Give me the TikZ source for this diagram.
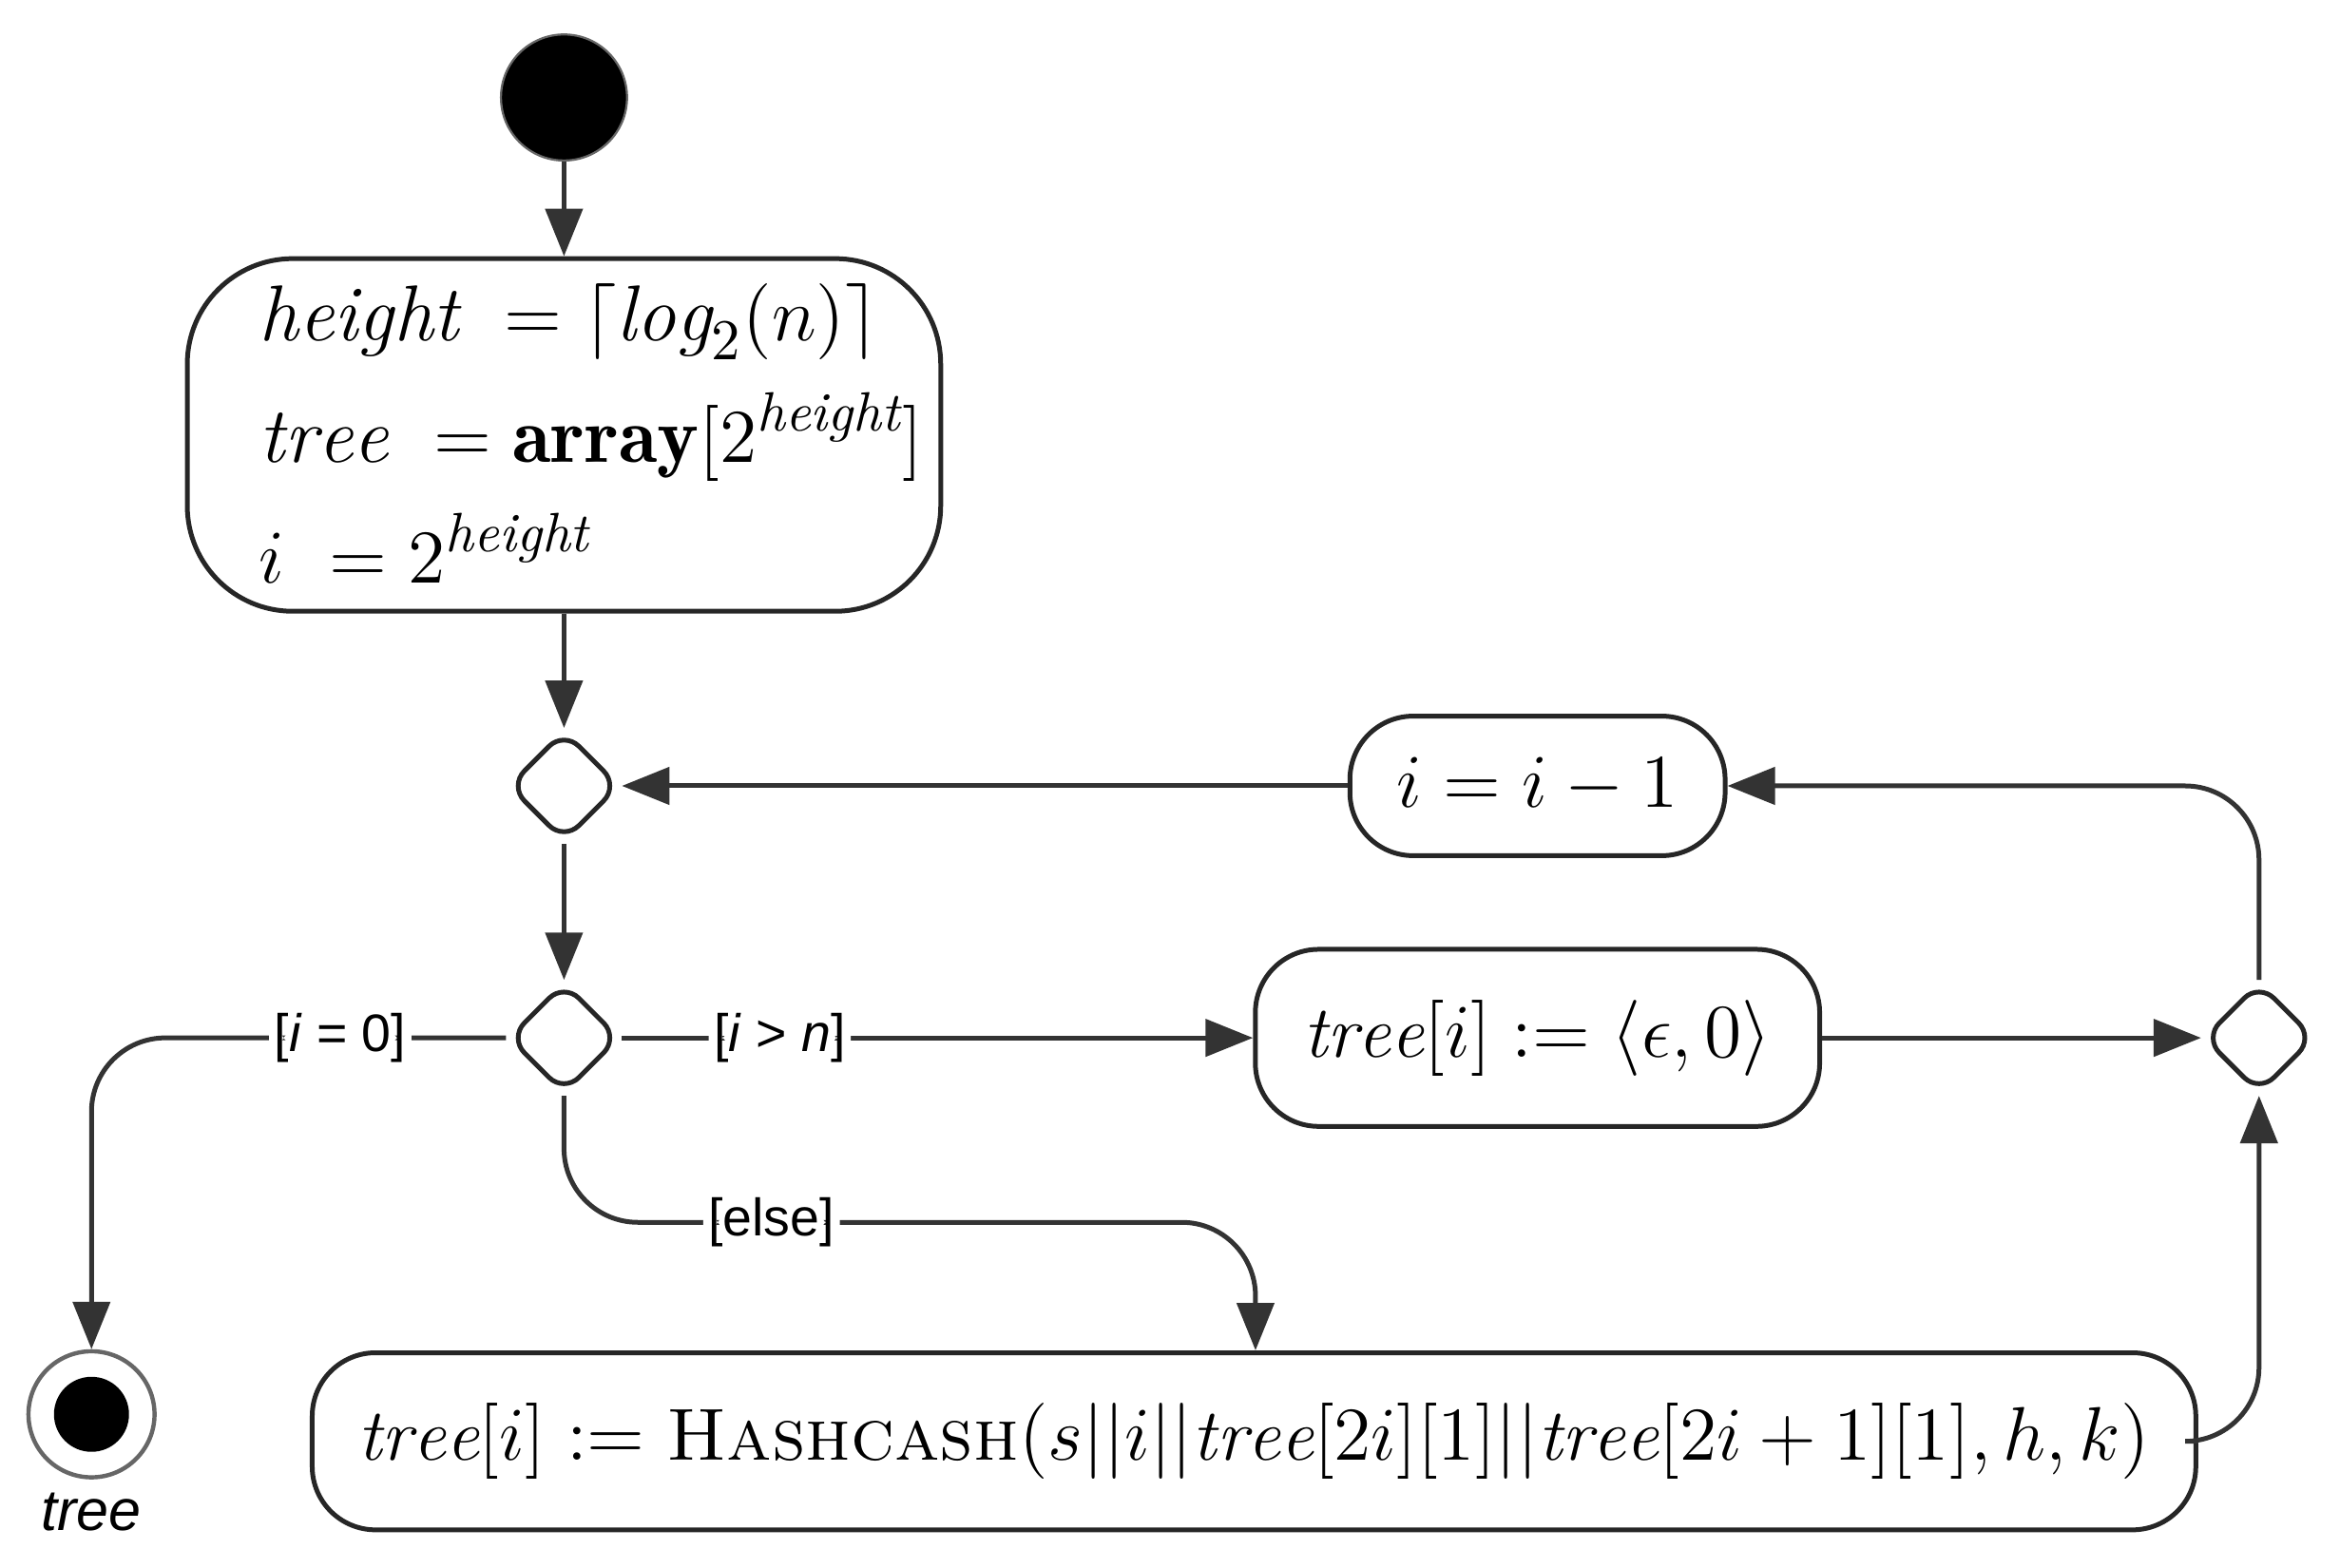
\documentclass[tikz,border=0pt]{standalone}
\usepackage{fontspec}
\usepackage{amsmath}
\newfontfamily\lblfont{Liberation Sans}
\usetikzlibrary{shapes.geometric,arrows.meta}
\begin{document}
\begin{tikzpicture}[x=0.01cm,y=-0.01cm,
  line/.style={draw=black!80, line width=0.9pt, rounded corners=14pt},
  arr/.style={line, -{Triangle[length=9pt,width=7pt]}},
  box/.style={draw=black!85, line width=0.9pt, rounded corners=12pt, inner sep=0pt, font=\fontsize{14}{20}\selectfont},
  dia/.style={draw=black!85, line width=0.9pt, diamond, rounded corners=4pt, minimum size=0.74cm, inner sep=0pt},
  lbl/.style={fill=white, inner sep=1pt, font=\lblfont\fontsize{10}{12}\selectfont}]
\useasboundingbox (0,0) rectangle (1560,1045);
\node[circle, fill=black, draw=black!60, minimum size=0.84cm, inner sep=0pt] (start) at (376,65) {};
\node[box, rounded corners=20pt, minimum width=5.02cm, minimum height=2.35cm] (init) at (376,290) {};
\node[anchor=west, inner sep=0pt, font=\fontsize{15}{20}\selectfont] (initt) at (172,294) {$\begin{aligned}
&\mathit{height}\ =\lceil \mathit{log}_2(n)\rceil\\
&\mathit{tree}\ =\mathbf{array}[2^{\mathit{height}}]\\
&i\ =2^{\mathit{height}}
\end{aligned}$};
\node[dia] (d1) at (376,524) {};
\node[dia] (d2) at (376,692) {};
\node[dia] (d3) at (1506,692) {};
\node[box, minimum width=2.5cm, minimum height=0.93cm] (dec) at (1025,524) {$i = i-1$};
\node[box, minimum width=3.76cm, minimum height=1.18cm] (eps) at (1025,692) {$\mathit{tree}[i] := \langle \epsilon, 0\rangle$};
\node[box, minimum width=12.55cm, minimum height=1.18cm] (hash) at (836,961) {$\mathit{tree}[i] := \textsc{Hashcash}(s||i||\mathit{tree}[2i][1]||\mathit{tree}[2i+1][1], h, k)$};
\node[circle, draw=black!60, line width=0.8pt, minimum size=0.84cm, inner sep=0pt] (end) at (61,943) {};
\node[circle, fill=black, minimum size=0.5cm, inner sep=0pt] at (end) {};
\node[font=\lblfont\itshape\fontsize{11}{13}\selectfont] (endl) at (61,1008) {tree};
\coordinate (c1) at (61,692);
\coordinate (c2) at (376,815);
\coordinate (c3) at (837,815);
\coordinate (c4) at (1506,961);
\coordinate (c5) at (1506,524);
\draw[arr] (start) -- (init);
\draw[arr] (init) -- (d1);
\draw[arr] (d1) -- (d2);
\draw[arr] (d2.west) -- node[lbl, pos=0.4]{[\textit{i} = 0]} (c1) -- (end);
\draw[arr] (d2.east) -- node[lbl, pos=0.25]{[\textit{i} > \textit{n}]} (eps.west);
\draw[arr] (d2.south) -- (c2) -- node[lbl, pos=0.3]{[else]} (c3) -- (hash.north -| c3);
\draw[arr] (eps.east) -- (d3.west);
\draw[arr] (hash.east) -- (c4) -- (d3.south);
\draw[arr] (d3.north) -- (c5) -- (dec.east);
\draw[arr] (dec.west) -- (d1.east);
\end{tikzpicture}
\end{document}
